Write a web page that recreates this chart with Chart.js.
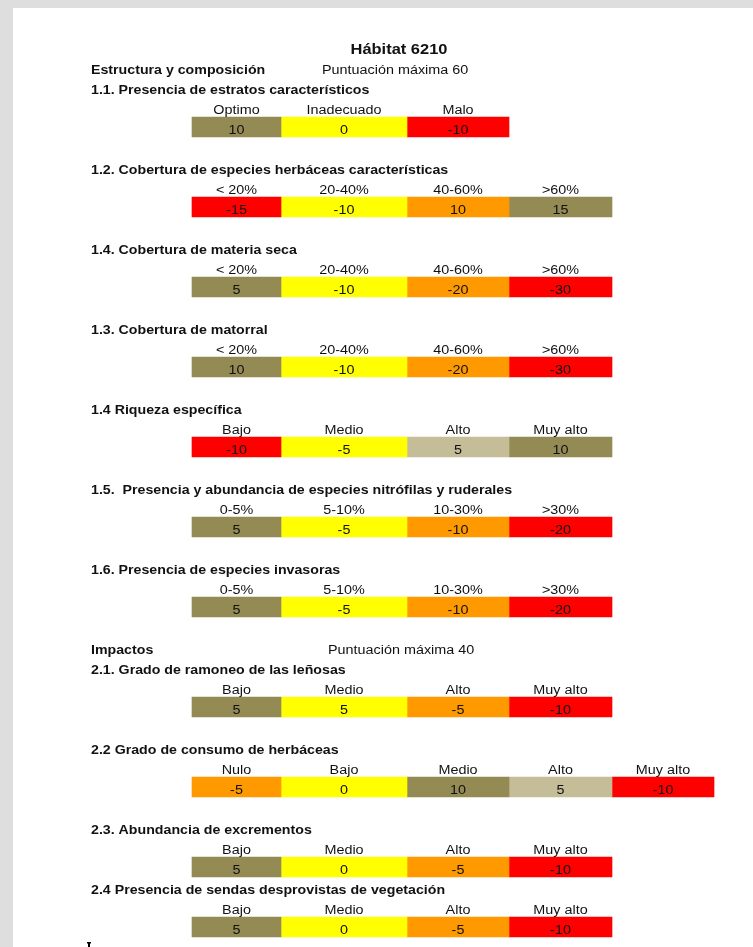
<!DOCTYPE html>
<html lang="es">
<head>
<meta charset="utf-8">
<title>Hábitat 6210</title>
<script src="https://cdn.jsdelivr.net/npm/chart.js@4.4.1/dist/chart.umd.min.js"></script>
<style>
    html, body { margin: 0; padding: 0; overflow: hidden; background: #dedede; }
    #page { position: absolute; left: 13px; top: 8px; right: 0; bottom: 0; background: #fff; }
    #sheet { position: absolute; left: 0; top: 0; }
</style>
</head>
<body>
<div id="page"></div>
<canvas id="sheet" width="753" height="947"></canvas>
<script>
// ---- data ----
const sheetTitle = "Hábitat 6210";
const sectionTitles = ["Estructura y composición", "Impactos"];
const sectionNotes = ["Puntuación máxima 60", "Puntuación máxima 40"];

const itemTitles = [
    "1.1. Presencia de estratos característicos",
    "1.2. Cobertura de especies herbáceas características",
    "1.4. Cobertura de materia seca",
    "1.3. Cobertura de matorral",
    "1.4 Riqueza específica",
    "1.5.  Presencia y abundancia de especies nitrófilas y ruderales",
    "1.6. Presencia de especies invasoras",
    "2.1. Grado de ramoneo de las leñosas",
    "2.2 Grado de consumo de herbáceas",
    "2.3. Abundancia de excrementos",
    "2.4 Presencia de sendas desprovistas de vegetación"
];
const itemLevels = [
    ["Optimo", "Inadecuado", "Malo"],
    ["< 20%", "20-40%", "40-60%", ">60%"],
    ["< 20%", "20-40%", "40-60%", ">60%"],
    ["< 20%", "20-40%", "40-60%", ">60%"],
    ["Bajo", "Medio", "Alto", "Muy alto"],
    ["0-5%", "5-10%", "10-30%", ">30%"],
    ["0-5%", "5-10%", "10-30%", ">30%"],
    ["Bajo", "Medio", "Alto", "Muy alto"],
    ["Nulo", "Bajo", "Medio", "Alto", "Muy alto"],
    ["Bajo", "Medio", "Alto", "Muy alto"],
    ["Bajo", "Medio", "Alto", "Muy alto"]
];
const itemScores = [
    [10, 0, -10],
    [-15, -10, 10, 15],
    [5, -10, -20, -30],
    [10, -10, -20, -30],
    [-10, -5, 5, 10],
    [5, -5, -10, -20],
    [5, -5, -10, -20],
    [5, 5, -5, -10],
    [-5, 0, 10, 5, -10],
    [5, 0, -5, -10],
    [5, 0, -5, -10]
];
// rating class of each cell: G good, L fair-good, Y medium, O poor, R bad
const itemRatings = [
    ["G", "Y", "R"],
    ["R", "Y", "O", "G"],
    ["G", "Y", "O", "R"],
    ["G", "Y", "O", "R"],
    ["R", "Y", "L", "G"],
    ["G", "Y", "O", "R"],
    ["G", "Y", "O", "R"],
    ["G", "Y", "O", "R"],
    ["O", "Y", "G", "L", "R"],
    ["G", "Y", "O", "R"],
    ["G", "Y", "O", "R"]
];

// ---- layout / style ----
const ratingColors = { G: "#948a54", L: "#c4bd97", Y: "#ffff00", O: "#ff9900", R: "#ff0000" };
const colEdges = [192, 281, 407, 509, 612, 714];
const cellRow = [4, 8, 12, 16, 20, 24, 28, 33, 37, 41, 44];
const sectionRow = [1, 30];
const sectionNoteX = [322, 328];
const titleX = 399, textLeft = 91;
const font = "'Liberation Sans', Arial, sans-serif";

const maxCols = Math.max(...itemLevels.map(l => l.length));
const datasets = [];
for (let c = 0; c < maxCols; c++) {
    const data = [];
    itemLevels.forEach((levels, i) => {
        if (c < levels.length) {
            data.push({ x: [colEdges[c], colEdges[c + 1]], y: cellRow[i], score: itemScores[i][c], level: levels[c], rating: itemRatings[i][c] });
        }
    });
    datasets.push({
        data: data,
        backgroundColor: ctx => ratingColors[ctx.raw.rating],
        borderWidth: 0,
        grouped: false,
        barThickness: 20
    });
}

function drawText(ctx, text, x, y, opts) {
    ctx.save();
    ctx.font = (opts.bold ? "bold " : "") + opts.size + "px " + font;
    ctx.fillStyle = "#111";
    ctx.textBaseline = "alphabetic";
    ctx.textAlign = opts.align || "left";
    ctx.translate(x, y);
    ctx.scale(opts.bold ? 1.135 : 1.15, 1);
    ctx.fillText(text, 0, 0);
    ctx.restore();
}

const sheetText = {
    id: "sheetText",
    afterDatasetsDraw(chart) {
        const ctx = chart.ctx;
        const yS = chart.scales.y;
        const base = r => yS.getPixelForValue(r) + 7;

        drawText(ctx, sheetTitle, titleX, base(0), { bold: true, size: 14.5, align: "center" });
        sectionTitles.forEach((t, s) => {
            drawText(ctx, t, textLeft, base(sectionRow[s]), { bold: true, size: 12.5 });
            drawText(ctx, sectionNotes[s], sectionNoteX[s], base(sectionRow[s]), { size: 12.5 });
        });
        itemTitles.forEach((t, i) => {
            drawText(ctx, t, textLeft, base(cellRow[i] - 2), { bold: true, size: 12.5 });
        });

        chart.data.datasets.forEach((ds, c) => {
            chart.getDatasetMeta(c).data.forEach((bar, j) => {
                const raw = ds.data[j];
                const cx = (bar.x + bar.base) / 2;
                drawText(ctx, raw.level, cx, base(raw.y - 1), { size: 12.5, align: "center" });
                drawText(ctx, String(raw.score), cx, bar.y + 7, { size: 12.5, align: "center" });
            });
        });

        // cursor mark below the last row
        ctx.save();
        ctx.fillStyle = "#000";
        ctx.fillRect(87, 942, 4, 1.5);
        ctx.fillRect(88, 942, 2, 6);
        ctx.restore();
    }
};

new Chart(document.getElementById("sheet").getContext("2d"), {
    type: "bar",
    data: { datasets: datasets },
    options: {
        indexAxis: "y",
        responsive: false,
        animation: false,
        layout: { padding: 0 },
        scales: {
            x: { type: "linear", min: 0, max: 753, offset: false, display: false },
            y: { type: "linear", min: -2.35, max: 45, reverse: true, offset: false, display: false }
        },
        plugins: { legend: { display: false }, tooltip: { enabled: false } }
    },
    plugins: [sheetText]
});
</script>
</body>
</html>
